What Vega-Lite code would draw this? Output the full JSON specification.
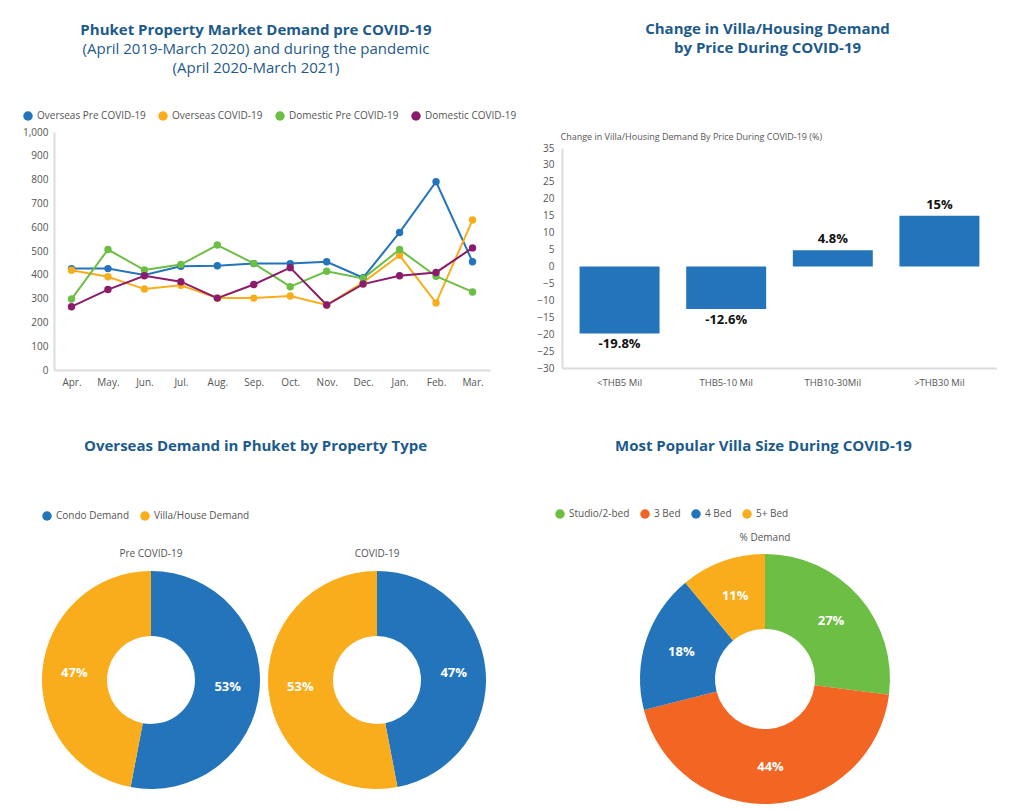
{
  "$schema": "https://vega.github.io/schema/vega-lite/v6.json",
  "padding": {"left": 22, "top": 22, "right": 0, "bottom": 0},
  "background": "white",
  "config": {
    "view": {"stroke": null},
    "font": "Open Sans",
    "axis": {"domainColor": "#dcdcdc", "domainWidth": 2, "ticks": false, "grid": false, "labelColor": "#555555", "labelFontSize": 10, "labelFont": "Open Sans"},
    "legend": {"labelColor": "#555555", "labelFontSize": 10, "labelFont": "Open Sans", "symbolType": "circle", "symbolSize": 90, "symbolStrokeWidth": 0, "title": null, "direction": "horizontal", "columnPadding": 10},
    "title": {"color": "#1d5a8c", "fontSize": 15, "fontWeight": "bold", "font": "Open Sans", "subtitleColor": "#1d5a8c", "subtitleFontSize": 15, "subtitleFont": "Open Sans", "subtitleFontWeight": "normal", "subtitleLineHeight": 19, "anchor": "middle", "frame": "group"},
    "header": {"labelFont": "Open Sans", "labelFontSize": 10, "labelColor": "#555555"}
  },
  "datasets": {
    "demand": [
      {"m": "Apr.", "s": "Overseas Pre COVID-19", "v": 426}, {"m": "May.", "s": "Overseas Pre COVID-19", "v": 426}, {"m": "Jun.", "s": "Overseas Pre COVID-19", "v": 399}, {"m": "Jul.", "s": "Overseas Pre COVID-19", "v": 436}, {"m": "Aug.", "s": "Overseas Pre COVID-19", "v": 438}, {"m": "Sep.", "s": "Overseas Pre COVID-19", "v": 447}, {"m": "Oct.", "s": "Overseas Pre COVID-19", "v": 447}, {"m": "Nov.", "s": "Overseas Pre COVID-19", "v": 455}, {"m": "Dec.", "s": "Overseas Pre COVID-19", "v": 388}, {"m": "Jan.", "s": "Overseas Pre COVID-19", "v": 578}, {"m": "Feb.", "s": "Overseas Pre COVID-19", "v": 791}, {"m": "Mar.", "s": "Overseas Pre COVID-19", "v": 455},
      {"m": "Apr.", "s": "Overseas COVID-19", "v": 419}, {"m": "May.", "s": "Overseas COVID-19", "v": 392}, {"m": "Jun.", "s": "Overseas COVID-19", "v": 340}, {"m": "Jul.", "s": "Overseas COVID-19", "v": 356}, {"m": "Aug.", "s": "Overseas COVID-19", "v": 302}, {"m": "Sep.", "s": "Overseas COVID-19", "v": 302}, {"m": "Oct.", "s": "Overseas COVID-19", "v": 311}, {"m": "Nov.", "s": "Overseas COVID-19", "v": 273}, {"m": "Dec.", "s": "Overseas COVID-19", "v": 368}, {"m": "Jan.", "s": "Overseas COVID-19", "v": 482}, {"m": "Feb.", "s": "Overseas COVID-19", "v": 282}, {"m": "Mar.", "s": "Overseas COVID-19", "v": 630},
      {"m": "Apr.", "s": "Domestic Pre COVID-19", "v": 298}, {"m": "May.", "s": "Domestic Pre COVID-19", "v": 506}, {"m": "Jun.", "s": "Domestic Pre COVID-19", "v": 420}, {"m": "Jul.", "s": "Domestic Pre COVID-19", "v": 443}, {"m": "Aug.", "s": "Domestic Pre COVID-19", "v": 525}, {"m": "Sep.", "s": "Domestic Pre COVID-19", "v": 448}, {"m": "Oct.", "s": "Domestic Pre COVID-19", "v": 350}, {"m": "Nov.", "s": "Domestic Pre COVID-19", "v": 415}, {"m": "Dec.", "s": "Domestic Pre COVID-19", "v": 385}, {"m": "Jan.", "s": "Domestic Pre COVID-19", "v": 506}, {"m": "Feb.", "s": "Domestic Pre COVID-19", "v": 394}, {"m": "Mar.", "s": "Domestic Pre COVID-19", "v": 328},
      {"m": "Apr.", "s": "Domestic COVID-19", "v": 266}, {"m": "May.", "s": "Domestic COVID-19", "v": 338}, {"m": "Jun.", "s": "Domestic COVID-19", "v": 396}, {"m": "Jul.", "s": "Domestic COVID-19", "v": 371}, {"m": "Aug.", "s": "Domestic COVID-19", "v": 302}, {"m": "Sep.", "s": "Domestic COVID-19", "v": 359}, {"m": "Oct.", "s": "Domestic COVID-19", "v": 430}, {"m": "Nov.", "s": "Domestic COVID-19", "v": 273}, {"m": "Dec.", "s": "Domestic COVID-19", "v": 361}, {"m": "Jan.", "s": "Domestic COVID-19", "v": 396}, {"m": "Feb.", "s": "Domestic COVID-19", "v": 410}, {"m": "Mar.", "s": "Domestic COVID-19", "v": 513}
    ],
    "price": [
      {"band": "<THB5 Mil", "change": -19.8, "label": "-19.8%"},
      {"band": "THB5-10 Mil", "change": -12.6, "label": "-12.6%"},
      {"band": "THB10-30Mil", "change": 4.8, "label": "4.8%"},
      {"band": ">THB30 Mil", "change": 15, "label": "15%"}
    ],
    "ptype": [
      {"period": "Pre COVID-19", "type": "Condo Demand", "share": 0.53, "k": 1},
      {"period": "Pre COVID-19", "type": "Villa/House Demand", "share": 0.47, "k": 2},
      {"period": "COVID-19", "type": "Condo Demand", "share": 0.47, "k": 1},
      {"period": "COVID-19", "type": "Villa/House Demand", "share": 0.53, "k": 2}
    ],
    "villa": [
      {"measure": "% Demand", "size": "Studio/2-bed", "share": 0.27, "k": 1},
      {"measure": "% Demand", "size": "3 Bed", "share": 0.44, "k": 2},
      {"measure": "% Demand", "size": "4 Bed", "share": 0.18, "k": 3},
      {"measure": "% Demand", "size": "5+ Bed", "share": 0.11, "k": 4}
    ]
  },
  "resolve": {"scale": {"color": "independent"}, "legend": {"color": "independent"}},
  "spacing": 52,
  "vconcat": [
    {
      "resolve": {"scale": {"color": "independent"}, "legend": {"color": "independent"}},
      "spacing": 19,
      "hconcat": [
        {
          "data": {"name": "demand"},
          "width": 436,
          "height": 238,
          "title": {"text": "Phuket Property Market Demand pre COVID-19", "subtitle": ["(April 2019-March 2020) and during the pandemic", "(April 2020-March 2021)"], "dx": -16, "offset": 35, "subtitlePadding": 4},
          "encoding": {
            "x": {"field": "m", "type": "ordinal", "sort": ["Apr.", "May.", "Jun.", "Jul.", "Aug.", "Sep.", "Oct.", "Nov.", "Dec.", "Jan.", "Feb.", "Mar."], "scale": {"type": "point", "padding": 0.48}, "axis": {"title": null, "labelAngle": 0, "labelPadding": 7}},
            "y": {"field": "v", "type": "quantitative", "scale": {"domain": [0, 1000], "nice": false}, "axis": {"title": null, "values": [0, 100, 200, 300, 400, 500, 600, 700, 800, 900, 1000], "format": ",d", "labelPadding": 6}},
            "color": {"field": "s", "type": "nominal", "scale": {"domain": ["Overseas Pre COVID-19", "Overseas COVID-19", "Domestic Pre COVID-19", "Domestic COVID-19"], "range": ["#2474bb", "#f9ad1c", "#6cbe45", "#8b1c6b"]}, "legend": {"orient": "none", "legendX": -31, "legendY": -21, "columnPadding": 12}}
          },
          "layer": [
            {"mark": {"type": "line", "strokeWidth": 2}},
            {"mark": {"type": "point", "filled": true, "size": 55, "opacity": 1}}
          ]
        },
        {
          "data": {"name": "price"},
          "width": 435,
          "height": 236,
          "title": {"text": ["Change in Villa/Housing Demand", "by Price During COVID-19"], "dx": -12, "offset": 76, "lineHeight": 19},
          "encoding": {
            "x": {"field": "band", "type": "nominal", "sort": null, "scale": {"paddingInner": 0.25, "paddingOuter": 0.165}, "axis": {"title": null, "labelAngle": 0, "labelPadding": 9, "labelFontSize": 9.5}},
            "y": {"field": "change", "type": "quantitative", "scale": {"domain": [-30, 35], "nice": false, "range": [236, 16]}, "axis": {"values": [-30, -25, -20, -15, -10, -5, 0, 5, 10, 15, 20, 25, 30, 35], "labelPadding": 8, "title": "Change in Villa/Housing Demand By Price During COVID-19 (%)", "titleAngle": 0, "titleAlign": "left", "titleBaseline": "middle", "titleX": -2, "titleY": 4, "titleFontSize": 9, "titleFontWeight": "normal", "titleColor": "#555555", "titleFont": "Open Sans"}}
          },
          "layer": [
            {"mark": {"type": "bar", "color": "#2474bb"}},
            {"transform": [{"filter": "datum.change >= 0"}], "mark": {"type": "text", "baseline": "bottom", "dy": -4, "fontSize": 13, "fontWeight": "bold", "color": "#111111"}, "encoding": {"text": {"field": "label"}}},
            {"transform": [{"filter": "datum.change < 0"}], "mark": {"type": "text", "baseline": "top", "dy": 5, "fontSize": 13, "fontWeight": "bold", "color": "#111111"}, "encoding": {"text": {"field": "label"}}}
          ]
        }
      ]
    },
    {
      "resolve": {"scale": {"color": "independent"}, "legend": {"color": "independent"}},
      "spacing": 69,
      "hconcat": [
        {
          "data": {"name": "ptype"},
          "title": {"text": "Overseas Demand in Phuket by Property Type", "anchor": "start", "dx": 30, "offset": 57},
          "facet": {"column": {"field": "period", "type": "nominal", "sort": ["Pre COVID-19", "COVID-19"], "header": {"title": null, "labelPadding": -5}}},
          "spacing": 8,
          "spec": {
            "width": 194,
            "height": 252,
            "encoding": {
              "theta": {"field": "share", "type": "quantitative", "stack": true},
              "order": {"field": "k", "type": "quantitative"},
              "color": {"field": "type", "type": "nominal", "scale": {"domain": ["Condo Demand", "Villa/House Demand"], "range": ["#2474bb", "#f9ad1c"]}, "legend": {"orient": "none", "legendX": -12, "legendY": -43}}
            },
            "layer": [
              {"mark": {"type": "arc", "outerRadius": 109, "innerRadius": 44}},
              {"mark": {"type": "text", "radius": 77, "fontSize": 13, "fontWeight": "bold"}, "encoding": {"color": {"value": "white"}, "text": {"field": "share", "type": "quantitative", "format": ".0%"}}}
            ]
          }
        },
        {
          "data": {"name": "villa"},
          "title": {"text": "Most Popular Villa Size During COVID-19", "anchor": "start", "dx": -25, "offset": 55},
          "facet": {"column": {"field": "measure", "type": "nominal", "header": {"title": null, "labelPadding": 11}}},
          "spec": {
            "width": 250,
            "height": 250,
            "encoding": {
              "theta": {"field": "share", "type": "quantitative", "stack": true},
              "order": {"field": "k", "type": "quantitative"},
              "color": {"field": "size", "type": "nominal", "scale": {"domain": ["Studio/2-bed", "3 Bed", "4 Bed", "5+ Bed"], "range": ["#6cbe45", "#f26522", "#2474bb", "#f9ad1c"]}, "legend": {"orient": "none", "legendX": -85, "legendY": -45}}
            },
            "layer": [
              {"mark": {"type": "arc", "outerRadius": 125, "innerRadius": 50}},
              {"mark": {"type": "text", "radius": 88, "fontSize": 13, "fontWeight": "bold"}, "encoding": {"color": {"value": "white"}, "text": {"field": "share", "type": "quantitative", "format": ".0%"}}}
            ]
          }
        }
      ]
    }
  ]
}
